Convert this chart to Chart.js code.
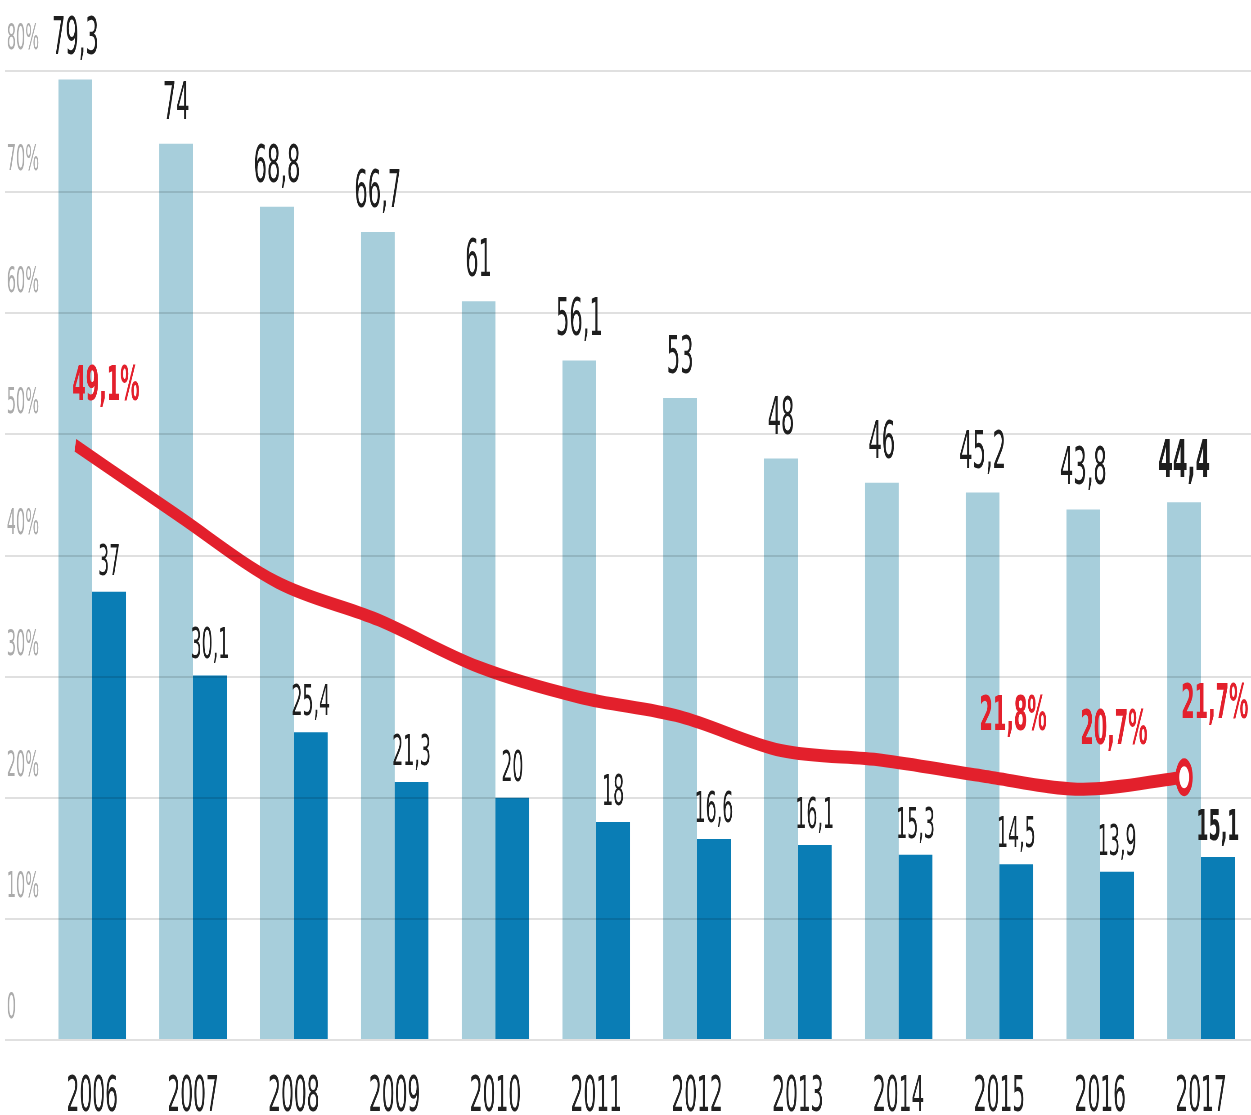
<!DOCTYPE html>
<html>
<head>
<meta charset="utf-8">
<script src="https://cdn.jsdelivr.net/npm/chart.js@4/dist/chart.umd.min.js"></script>
<style>
  html, body { margin: 0; padding: 0; background: #fff; overflow: hidden; }
  #wrap { width: 1251px; height: 1115px; overflow: hidden; }
  /* the source graphic is horizontally squeezed: draw wide, then compress */
  #chart { transform: scaleX(0.45); transform-origin: 0 0; }
</style>
</head>
<body>
<div id="wrap"><canvas id="chart" width="2804" height="1115"></canvas></div>
<script>
// Chart data
const years = ["2006", "2007", "2008", "2009", "2010", "2011", "2012", "2013", "2014", "2015", "2016", "2017"];
const lightValues = [79.3, 74, 68.8, 66.7, 61, 56.1, 53, 48, 46, 45.2, 43.8, 44.4];
const darkValues = [37, 30.1, 25.4, 21.3, 20, 18, 16.6, 16.1, 15.3, 14.5, 13.9, 15.1];
const redValues = [49.1, 43.4, 37.8, 34.7, 30.8, 28.3, 26.7, 23.9, 23.1, 21.8, 20.7, 21.7];
const redLabelled = [0, 9, 10, 11];
const yTicks = [0, 10, 20, 30, 40, 50, 60, 70, 80];

const FONT = "'DejaVu Sans Condensed', 'Liberation Sans Narrow', sans-serif";
const RED = "#e3202c";
const fmt = v => String(v).replace(".", ",");
const last = years.length - 1;

// red line runs through the centre of the light bars
const lineShift = chart => -chart.getDatasetMeta(0).data[0].width / 2;

const linePlugin = {
  id: "lineShift",
  beforeDatasetDraw(chart, args) {
    if (args.index !== 2) return;
    chart.ctx.save();
    chart.ctx.translate(lineShift(chart), 0);
  },
  afterDatasetDraw(chart, args) {
    if (args.index !== 2) return;
    chart.ctx.restore();
  }
};

// Value labels above bars and red percent labels
const labelPlugin = {
  id: "valueLabels",
  afterDraw(chart) {
    const ctx = chart.ctx;
    ctx.save();
    ctx.textAlign = "center";
    ctx.textBaseline = "alphabetic";
    ctx.fillStyle = "#1e1e1e";

    chart.getDatasetMeta(0).data.forEach((bar, i) => {
      ctx.font = (i === last ? "bold " : "") + "52px " + FONT;
      ctx.fillText(fmt(lightValues[i]), bar.x, bar.y - 25);
    });

    chart.getDatasetMeta(1).data.forEach((bar, i) => {
      ctx.font = (i === last ? "bold " : "") + "43px " + FONT;
      ctx.fillText(fmt(darkValues[i]), bar.x, bar.y - 17);
    });

    const shift = lineShift(chart);
    const pts = chart.getDatasetMeta(2).data;
    ctx.font = "bold 48px " + FONT;
    ctx.fillStyle = RED;
    ctx.textBaseline = "middle";
    redLabelled.forEach(i => {
      const p = pts[i];
      ctx.fillText(fmt(redValues[i]) + "%", p.x + shift + 68, p.y - (i === last ? 72 : 58));
    });
    ctx.restore();
  }
};

new Chart(document.getElementById("chart"), {
  type: "bar",
  data: {
    labels: years,
    datasets: [
      {
        data: lightValues,
        backgroundColor: "#a7cedb",
        categoryPercentage: 0.67,
        barPercentage: 1.0,
        order: 2
      },
      {
        data: darkValues,
        backgroundColor: "#0a7db5",
        categoryPercentage: 0.67,
        barPercentage: 1.0,
        order: 2
      },
      {
        type: "line",
        data: redValues,
        borderColor: RED,
        borderWidth: 13,
        cubicInterpolationMode: "monotone",
        pointRadius: redValues.map((v, i) => i === last ? 15 : 0),
        pointBorderWidth: 8,
        pointBorderColor: RED,
        pointBackgroundColor: "#ffffff",
        clip: false,
        order: 0
      }
    ]
  },
  options: {
    responsive: false,
    animation: false,
    layout: { padding: { top: 71, left: 15, right: 0, bottom: 0 } },
    plugins: {
      legend: { display: false },
      tooltip: { enabled: false }
    },
    scales: {
      x: {
        offset: true,
        grid: { display: false, drawTicks: false },
        border: { display: false },
        ticks: {
          padding: 28,
          color: "#222",
          font: { family: FONT, size: 50 }
        },
        afterFit: s => { s.height = 75; }
      },
      y: {
        min: 0,
        max: 80,
        afterBuildTicks: s => { s.ticks = yTicks.map(v => ({ value: v })); },
        grid: {
          z: 1,
          color: "rgba(0,0,0,0.12)",
          lineWidth: 2,
          tickLength: 82
        },
        border: { display: false },
        ticks: {
          crossAlign: "far",
          labelOffset: -31,
          color: "#ababab",
          font: { family: FONT, size: 36 },
          callback: v => v === 0 ? "0" : v + "%"
        },
        afterFit: s => { s.width = 78; }
      }
    }
  },
  plugins: [linePlugin, labelPlugin]
});
</script>
</body>
</html>
